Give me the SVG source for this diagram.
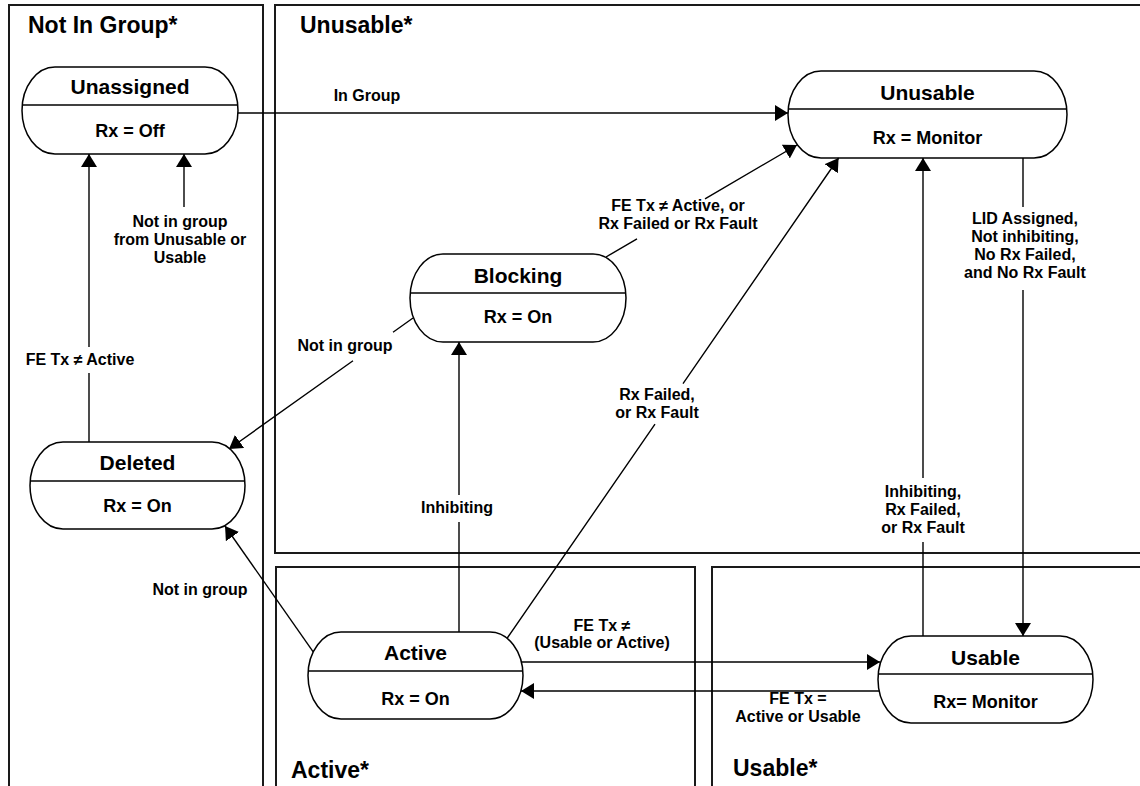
<svg xmlns="http://www.w3.org/2000/svg" width="1140" height="786" viewBox="0 0 1140 786">
<style>
.frame{fill:none;stroke:#1a1a1a;stroke-width:2}
.node{fill:#fff;stroke:#000;stroke-width:1.5}
.div{stroke:#000;stroke-width:1.5}
.ft{font-family:"Liberation Sans",Arial,sans-serif;font-weight:bold;font-size:23px;fill:#000}
.nt{font-family:"Liberation Sans",Arial,sans-serif;font-weight:bold;font-size:21px;fill:#000;text-anchor:middle}
.ns{font-family:"Liberation Sans",Arial,sans-serif;font-weight:bold;font-size:18px;fill:#000;text-anchor:middle}
.lb{font-family:"Liberation Sans",Arial,sans-serif;font-weight:bold;font-size:16px;fill:#000;text-anchor:middle}
.edge{fill:none;stroke:#000;stroke-width:1.4}
</style>
<defs>
<marker id="arr" markerUnits="userSpaceOnUse" markerWidth="13" markerHeight="16" viewBox="0 0 13 16" refX="13" refY="8" orient="auto">
<path d="M0,0 L13,8 L0,16 z" fill="#000"/>
</marker>
</defs>
<rect width="1140" height="786" fill="#fff"/>
<g id="frames">
<path class="frame" d="M9,790 V5 H263 V790"/>
<path class="frame" d="M1145,5 H275 V553 H1145"/>
<path class="frame" d="M276,790 V567 H695 V790"/>
<path class="frame" d="M1145,567 H712 V790"/>
<text class="ft" x="28" y="33">Not In Group*</text>
<text class="ft" x="300" y="33">Unusable*</text>
<text class="ft" x="291" y="778">Active*</text>
<text class="ft" x="733" y="776">Usable*</text>
</g>
<g id="node-unassigned">
<rect class="node" x="22" y="67" width="216" height="87" rx="33" ry="43.5"/>
<line class="div" x1="22" y1="105" x2="238" y2="105"/>
<text class="nt" x="130" y="94">Unassigned</text>
<text class="ns" x="130" y="137">Rx = Off</text>
</g>
<g id="node-unusable">
<rect class="node" x="788" y="71" width="279" height="87" rx="33" ry="43.5"/>
<line class="div" x1="788" y1="109" x2="1067" y2="109"/>
<text class="nt" x="927.5" y="100">Unusable</text>
<text class="ns" x="927.5" y="144">Rx = Monitor</text>
</g>
<g id="node-blocking">
<rect class="node" x="410" y="254" width="216" height="88" rx="33" ry="44"/>
<line class="div" x1="410" y1="293" x2="626" y2="293"/>
<text class="nt" x="518" y="283">Blocking</text>
<text class="ns" x="518" y="323">Rx = On</text>
</g>
<g id="node-deleted">
<rect class="node" x="30" y="442" width="215" height="87" rx="33" ry="43.5"/>
<line class="div" x1="30" y1="481" x2="245" y2="481"/>
<text class="nt" x="137.5" y="470">Deleted</text>
<text class="ns" x="137.5" y="512">Rx = On</text>
</g>
<g id="node-active">
<rect class="node" x="308" y="632" width="215" height="87" rx="33" ry="43.5"/>
<line class="div" x1="308" y1="671" x2="523" y2="671"/>
<text class="nt" x="415.5" y="660">Active</text>
<text class="ns" x="415.5" y="705">Rx = On</text>
</g>
<g id="node-usable">
<rect class="node" x="878" y="636" width="215" height="87" rx="33" ry="43.5"/>
<line class="div" x1="878" y1="674" x2="1093" y2="674"/>
<text class="nt" x="985.5" y="665">Usable</text>
<text class="ns" x="985.5" y="708">Rx= Monitor</text>
</g>
<g id="connectors">
<path class="edge" marker-end="url(#arr)" d="M238,113 H788"/>
<path class="edge" marker-end="url(#arr)" d="M89,442 V373 M89,347 V154"/>
<path class="edge" marker-end="url(#arr)" d="M184,207 V154"/>
<path class="edge" marker-end="url(#arr)" d="M413,318 L393,332.2 M353,360.7 L229,449"/>
<path class="edge" marker-end="url(#arr)" d="M606,257 L637,238.9 M705,198.8 L797,145"/>
<path class="edge" marker-end="url(#arr)" d="M507.3,638 L655,424.1 M683,383.6 L838.6,158"/>
<path class="edge" marker-end="url(#arr)" d="M459,632 V522 M459,495 V342"/>
<path class="edge" marker-end="url(#arr)" d="M313.2,651.8 L225,526"/>
<path class="edge" marker-end="url(#arr)" d="M521,662 H880"/>
<path class="edge" marker-end="url(#arr)" d="M879,691 H521"/>
<path class="edge" marker-end="url(#arr)" d="M923,636 V542 M923,478 V158"/>
<path class="edge" marker-end="url(#arr)" d="M1023,158 V207 M1023,290 V636"/>
</g>
<g id="labels">
<text class="lb" x="367" y="101">In Group</text>
<text class="lb" x="180" y="227">Not in group</text>
<text class="lb" x="180" y="245">from Unusable or</text>
<text class="lb" x="180" y="263">Usable</text>
<text class="lb" x="80" y="365">FE Tx ≠ Active</text>
<text class="lb" x="345" y="351">Not in group</text>
<text class="lb" x="678" y="211">FE Tx ≠ Active, or</text>
<text class="lb" x="678" y="229">Rx Failed or Rx Fault</text>
<text class="lb" x="657" y="400">Rx Failed,</text>
<text class="lb" x="657" y="418">or Rx Fault</text>
<text class="lb" x="457" y="513">Inhibiting</text>
<text class="lb" x="1025" y="224">LID Assigned,</text>
<text class="lb" x="1025" y="242">Not inhibiting,</text>
<text class="lb" x="1025" y="260">No Rx Failed,</text>
<text class="lb" x="1025" y="278">and No Rx Fault</text>
<text class="lb" x="923" y="497">Inhibiting,</text>
<text class="lb" x="923" y="515">Rx Failed,</text>
<text class="lb" x="923" y="533">or Rx Fault</text>
<text class="lb" x="200" y="595">Not in group</text>
<text class="lb" x="602" y="631">FE Tx ≠</text>
<text class="lb" x="602" y="648">(Usable or Active)</text>
<text class="lb" x="798" y="704">FE Tx =</text>
<text class="lb" x="798" y="722">Active or Usable</text>
</g>
</svg>
